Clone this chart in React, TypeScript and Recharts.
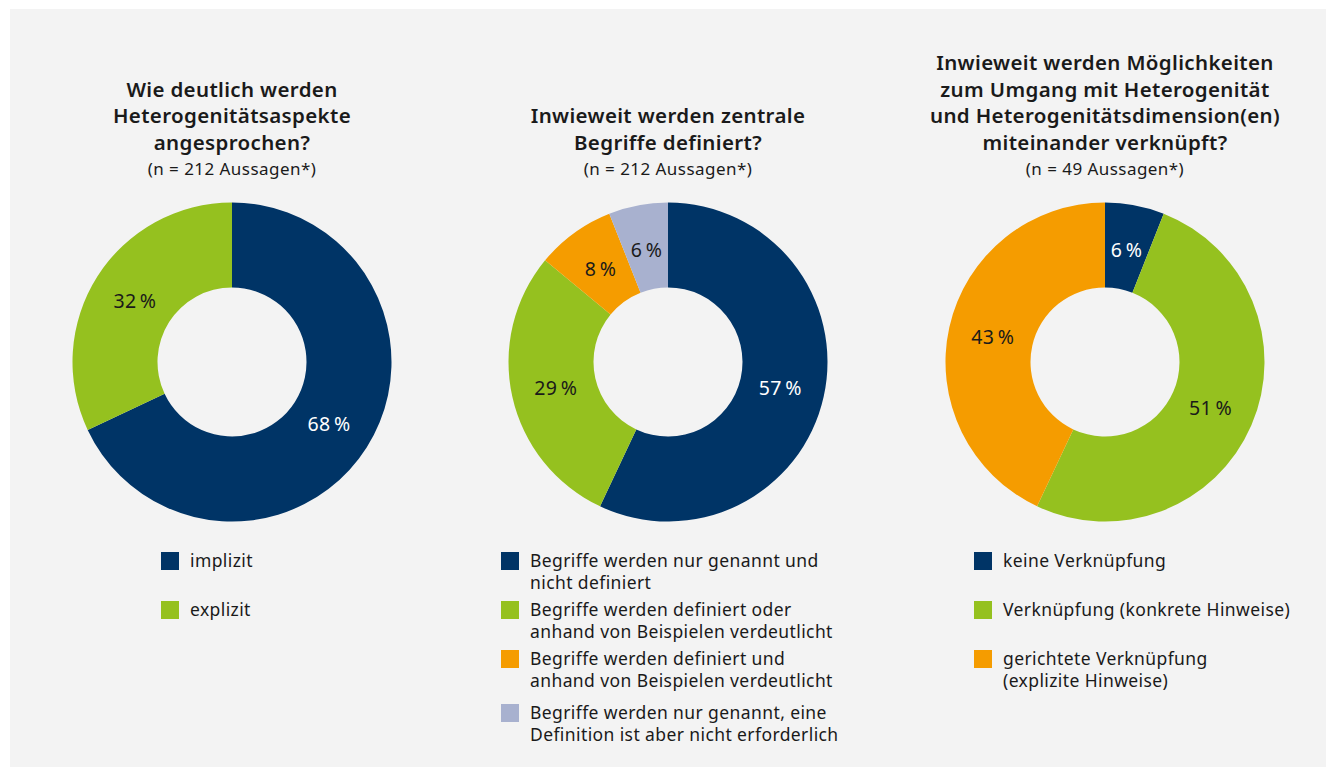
import { Cell, Pie, PieChart } from "recharts"

const NAVY = "#003466"
const GREEN = "#95c11f"
const ORANGE = "#f59c00"
const LAVENDER = "#a8b1cf"

// chart 1
const titleA = ["Wie deutlich werden", "Heterogenitätsaspekte", "angesprochen?"]
const subA = "(n = 212 Aussagen*)"
const labelsA = ["implizit", "explizit"]
const valuesA = [68, 32]
const colorsA = [NAVY, GREEN]

// chart 2
const titleB = ["Inwieweit werden zentrale", "Begriffe definiert?"]
const subB = "(n = 212 Aussagen*)"
const labelsB = [
  "Begriffe werden nur genannt und\nnicht definiert",
  "Begriffe werden definiert oder\nanhand von Beispielen verdeutlicht",
  "Begriffe werden definiert und\nanhand von Beispielen verdeutlicht",
  "Begriffe werden nur genannt, eine\nDefinition ist aber nicht erforderlich",
]
const valuesB = [57, 29, 8, 6]
const colorsB = [NAVY, GREEN, ORANGE, LAVENDER]

// chart 3
const titleC = [
  "Inwieweit werden Möglichkeiten",
  "zum Umgang mit Heterogenität",
  "und Heterogenitätsdimension(en)",
  "miteinander verknüpft?",
]
const subC = "(n = 49 Aussagen*)"
const labelsC = ["keine Verknüpfung", "Verknüpfung (konkrete Hinweise)", "gerichtete Verknüpfung\n(explizite Hinweise)"]
const valuesC = [6, 51, 43]
const colorsC = [NAVY, GREEN, ORANGE]

const FONT = "'Noto Sans', sans-serif"
const RADIAN = Math.PI / 180

const renderLabel = (props: any) => {
  const { cx, cy, midAngle, innerRadius, outerRadius, value, payload } = props
  const r = (innerRadius + outerRadius) / 2 - 2
  const x = cx + r * Math.cos(-midAngle * RADIAN)
  const y = cy + r * Math.sin(-midAngle * RADIAN)
  return (
    <text
      x={x}
      y={y}
      textAnchor="middle"
      dominantBaseline="central"
      fill={payload.fill === NAVY ? "#ffffff" : "#1a1a1a"}
      fontSize={19.5}
      letterSpacing={0.3}
      fontFamily={FONT}
    >
      {`${value}\u2009%`}
    </text>
  )
}

function Donut(props: {
  cx: number
  title: string[]
  sub: string
  labels: string[]
  values: number[]
  colors: string[]
  legendX: number
  legendTops: number[]
}) {
  const data = props.labels.map((l, i) => ({ name: l, value: props.values[i], fill: props.colors[i] }))
  return (
    <>
      <div
        style={{
          position: "absolute",
          left: props.cx - 220,
          width: 440,
          top: 20,
          height: 162,
          display: "flex",
          flexDirection: "column",
          justifyContent: "flex-end",
          alignItems: "center",
          textAlign: "center",
          color: "#1a1a1a",
          fontFamily: FONT,
        }}
      >
        {props.title.map((t) => (
          <div key={t} style={{ fontSize: 20.5, fontWeight: 600, letterSpacing: 0.35, lineHeight: "26.5px" }}>
            {t}
          </div>
        ))}
        <div style={{ fontSize: 17, letterSpacing: 0.45, lineHeight: "27px" }}>{props.sub}</div>
      </div>
      <div style={{ position: "absolute", left: props.cx - 170, top: 192 }}>
        <PieChart width={340} height={340} margin={{ top: 0, right: 0, bottom: 0, left: 0 }}>
          <Pie
            data={data}
            dataKey="value"
            cx={170}
            cy={170}
            innerRadius={74.5}
            outerRadius={159.5}
            startAngle={90}
            endAngle={-270}
            stroke="none"
            label={renderLabel}
            labelLine={false}
            isAnimationActive={false}
          >
            {data.map((d) => (
              <Cell key={d.name} fill={d.fill} />
            ))}
          </Pie>
        </PieChart>
      </div>
      {data.map((d, i) => (
        <div
          key={d.name}
          style={{
            position: "absolute",
            left: props.legendX,
            top: props.legendTops[i],
            display: "flex",
            alignItems: "flex-start",
            fontFamily: FONT,
            fontSize: 17.5,
            letterSpacing: 0.4,
            lineHeight: "21.5px",
            color: "#1a1a1a",
          }}
        >
          <div style={{ width: 18, height: 18, background: d.fill, marginTop: 1.5, marginRight: 11, flexShrink: 0 }} />
          <div style={{ whiteSpace: "pre" }}>{d.name}</div>
        </div>
      ))}
    </>
  )
}

export default function App() {
  return (
    <div style={{ position: "absolute", left: 0, top: 0, width: 1328, height: 767, background: "#ffffff", overflow: "hidden" }}>
      <div style={{ position: "absolute", left: 10, top: 9, width: 1316, height: 758, background: "#f3f3f3" }} />
      <Donut cx={232} title={titleA} sub={subA} labels={labelsA} values={valuesA} colors={colorsA} legendX={161} legendTops={[550, 599]} />
      <Donut cx={668} title={titleB} sub={subB} labels={labelsB} values={valuesB} colors={colorsB} legendX={501} legendTops={[550, 599, 648, 702]} />
      <Donut cx={1105} title={titleC} sub={subC} labels={labelsC} values={valuesC} colors={colorsC} legendX={974} legendTops={[550, 599, 648]} />
    </div>
  )
}
